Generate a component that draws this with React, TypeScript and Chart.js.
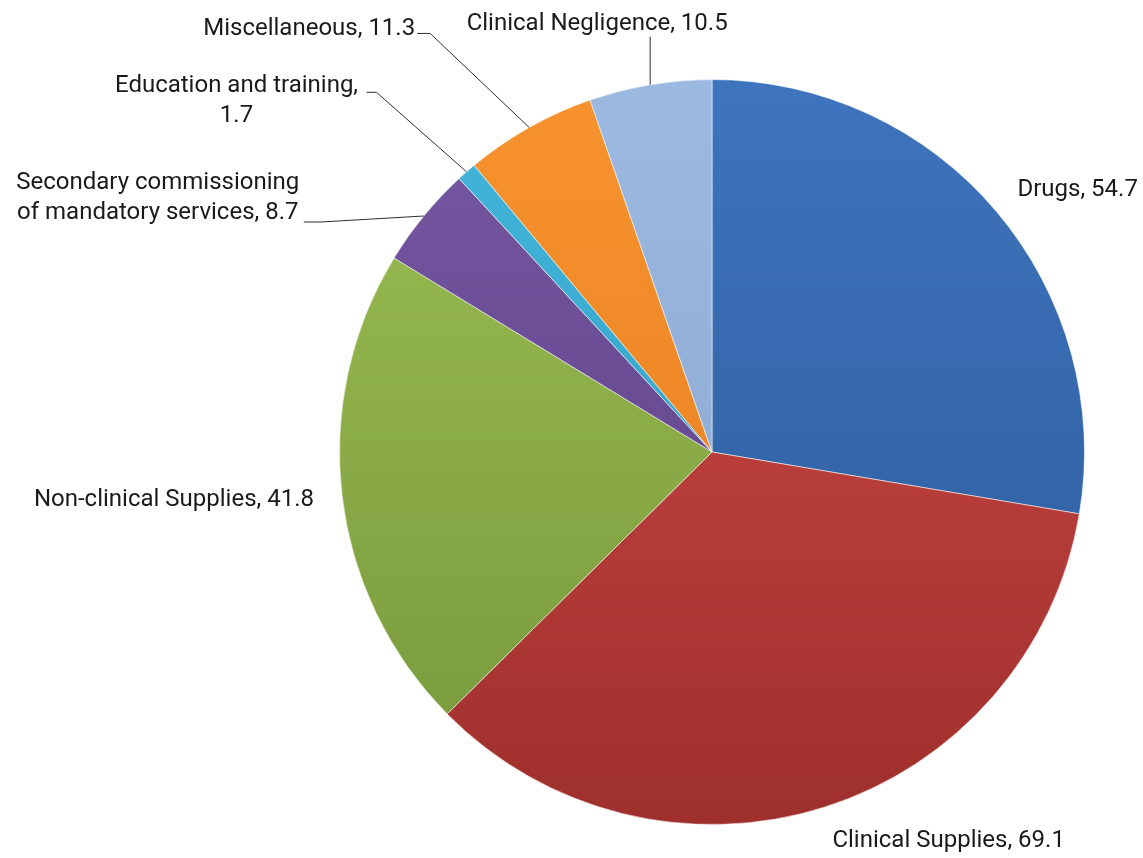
import React, { useEffect, useRef } from "react";
import { Chart, registerables } from "chart.js";

Chart.register(...registerables);

const categories = [
  "Drugs",
  "Clinical Supplies",
  "Non-clinical Supplies",
  "Secondary commissioning of mandatory services",
  "Education and training",
  "Miscellaneous",
  "Clinical Negligence",
];
const values = [54.7, 69.1, 41.8, 8.7, 1.7, 11.3, 10.5];
const labelLines = [
  ["Drugs, 54.7"],
  ["Clinical Supplies, 69.1"],
  ["Non-clinical Supplies, 41.8"],
  ["Secondary commissioning", "of mandatory services, 8.7"],
  ["Education and training,", "1.7"],
  ["Miscellaneous, 11.3"],
  ["Clinical Negligence, 10.5"],
];

// colours: [top, bottom]
const sliceColors = [
  ["#3e74be", "#2b5996"],
  ["#d44d49", "#9e2f2c"],
  ["#9dbf54", "#76973a"],
  ["#7658a2", "#5b3e84"],
  ["#45b6da", "#2a9ac2"],
  ["#f7932f", "#e47b1e"],
  ["#9cb9e1", "#86a3cf"],
];

// label placement relative to the outer midpoint of each slice
const labelStyle = [
  { dx: 21, dy: -21, align: "left", line: [] },
  { dx: 8, dy: 34, align: "left", line: [] },
  { dx: -28, dy: 5, align: "right", line: [] },
  { dx: -266, dy: -18, align: "center", line: [[-103, 6], [-120, 6]] },
  { dx: -230, dy: -71, align: "center", line: [[-90, -79.5], [-100, -79.5]] },
  { dx: -114, dy: -98, align: "right", line: [[-99, -94], [-112, -94]] },
  { dx: -53, dy: -61, align: "center", line: [[0, -48]] },
];

const FONT = "24px Roboto";
const LINE_H = 30;

const labelPlugin = {
  id: "outLabels",
  afterDatasetsDraw(chart: any) {
    const ctx = chart.ctx;
    const meta = chart.getDatasetMeta(0);
    ctx.save();
    meta.data.forEach((arc: any, i: number) => {
      const p = arc.getProps(["x", "y", "startAngle", "endAngle", "outerRadius"], true);
      const mid = (p.startAngle + p.endAngle) / 2;
      const px = p.x + Math.cos(mid) * p.outerRadius;
      const py = p.y + Math.sin(mid) * p.outerRadius;
      const st = labelStyle[i];
      if (st.line.length) {
        ctx.beginPath();
        ctx.strokeStyle = "#2e2e2e";
        ctx.lineWidth = 1;
        ctx.moveTo(px, py);
        st.line.forEach((q: number[]) => ctx.lineTo(px + q[0], py + q[1]));
        ctx.stroke();
      }
      ctx.font = FONT;
      ctx.fillStyle = "#1a1a1a";
      ctx.textAlign = st.align;
      ctx.textBaseline = "middle";
      const lines = labelLines[i];
      const tx = px + st.dx;
      const ty = py + st.dy - ((lines.length - 1) * LINE_H) / 2;
      lines.forEach((t, k) => ctx.fillText(t, tx, ty + k * LINE_H));
    });
    ctx.restore();
  },
};

export default function App() {
  const ref = useRef<HTMLCanvasElement>(null);
  useEffect(() => {
    document.body.style.margin = "0";
    const canvas = ref.current!;
    const chart = new Chart(canvas, {
      type: "pie",
      data: {
        labels: categories,
        datasets: [
          {
            data: values,
            backgroundColor: (c: any) => {
              const ch = c.chart;
              const area = ch.chartArea;
              const col = sliceColors[c.dataIndex % sliceColors.length];
              if (!area) return col[0];
              const g = ch.ctx.createLinearGradient(0, area.top, 0, area.bottom);
              g.addColorStop(0, col[0]);
              g.addColorStop(1, col[1]);
              return g;
            },
            borderColor: "rgba(255,255,255,0.55)",
            borderWidth: 1,
          },
        ],
      },
      options: {
        responsive: false,
        animation: false,
        layout: { padding: { left: 339, right: 58, top: 79, bottom: 33 } },
        plugins: {
          legend: { display: false },
          tooltip: { enabled: false },
        },
      },
      plugins: [labelPlugin],
    });
    return () => chart.destroy();
  }, []);
  return (
    <div style={{ position: "absolute", left: 0, top: 0, width: 1143, height: 858, background: "#fff" }}>
      <canvas ref={ref} width={1143} height={858} />
    </div>
  );
}
